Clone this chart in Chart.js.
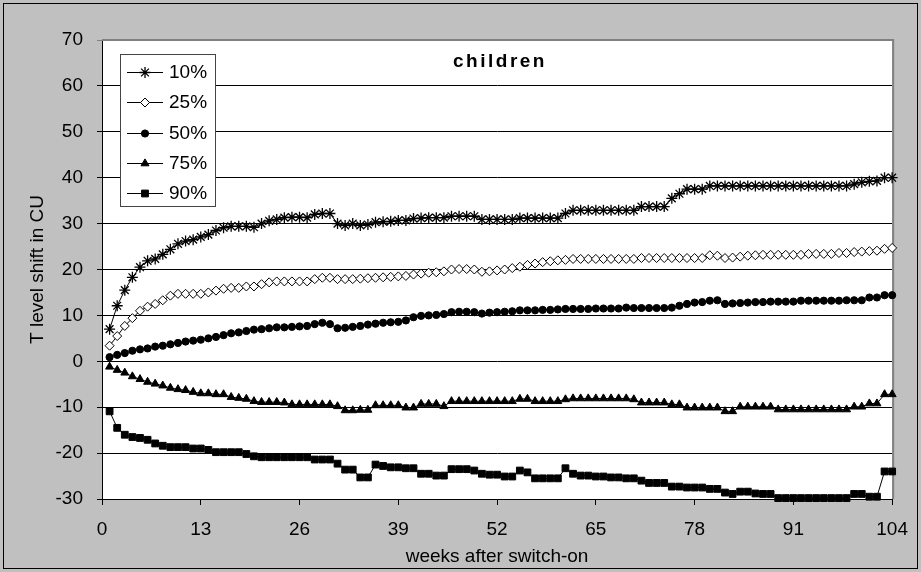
<!DOCTYPE html>
<html>
<head>
<meta charset="utf-8">
<title>T level shift - children</title>
<script src="https://cdn.jsdelivr.net/npm/chart.js@4.4.1/dist/chart.umd.min.js"></script>
<style>
  html, body { margin: 0; padding: 0; background: #c0c0c0; }
  #wrap { width: 921px; height: 572px; }
</style>
</head>
<body>
<div id="wrap"><canvas id="shiftChart" width="921" height="572"></canvas></div>
<script>
// weeks after switch-on (x values)
const weeks = [
  1, 2, 3, 4, 5, 6, 7, 8, 9, 10, 11, 12, 13,
  14, 15, 16, 17, 18, 19, 20, 21, 22, 23, 24, 25, 26,
  27, 28, 29, 30, 31, 32, 33, 34, 35, 36, 37, 38, 39,
  40, 41, 42, 43, 44, 45, 46, 47, 48, 49, 50, 51, 52,
  53, 54, 55, 56, 57, 58, 59, 60, 61, 62, 63, 64, 65,
  66, 67, 68, 69, 70, 71, 72, 73, 74, 75, 76, 77, 78,
  79, 80, 81, 82, 83, 84, 85, 86, 87, 88, 89, 90, 91,
  92, 93, 94, 95, 96, 97, 98, 99, 100, 101, 102, 103, 104
];

// T level shift (CU) per percentile, one value per week
const p10 = [
  7.0, 12.1, 15.5, 18.3, 20.5, 21.9, 22.3, 23.3, 24.4, 25.6, 26.2, 26.5, 27.1,
  27.6, 28.5, 29.1, 29.4, 29.4, 29.4, 29.2, 30.0, 30.6, 30.9, 31.3, 31.4, 31.4,
  31.3, 32.0, 32.2, 32.2, 30.0, 29.6, 30.0, 29.6, 29.8, 30.3, 30.4, 30.5, 30.7,
  30.7, 31.1, 31.2, 31.3, 31.3, 31.3, 31.6, 31.6, 31.6, 31.6, 30.9, 30.9, 30.9,
  30.9, 30.9, 31.2, 31.2, 31.2, 31.2, 31.2, 31.2, 32.2, 32.9, 32.9, 32.9, 32.9,
  32.9, 32.9, 32.9, 32.9, 32.9, 33.7, 33.7, 33.7, 33.7, 35.5, 36.5, 37.5, 37.5,
  37.5, 38.2, 38.2, 38.2, 38.2, 38.2, 38.2, 38.2, 38.2, 38.2, 38.2, 38.2, 38.2,
  38.2, 38.2, 38.2, 38.2, 38.2, 38.2, 38.2, 38.6, 39.0, 39.2, 39.3, 40.0, 40.0
];
const p25 = [
  3.4, 5.5, 7.7, 9.4, 11.0, 11.9, 12.5, 13.3, 14.3, 14.7, 14.7, 14.7, 14.7,
  15.0, 15.4, 15.8, 16.0, 16.0, 16.3, 16.3, 16.8, 17.2, 17.4, 17.4, 17.4, 17.4,
  17.4, 17.9, 18.2, 18.2, 17.9, 17.9, 17.9, 18.0, 18.1, 18.2, 18.3, 18.4, 18.5,
  18.6, 18.9, 19.1, 19.3, 19.4, 19.6, 20.0, 20.1, 20.1, 20.0, 19.5, 19.6, 19.8,
  20.0, 20.3, 20.6, 21.0, 21.3, 21.6, 21.8, 22.0, 22.1, 22.3, 22.3, 22.3, 22.3,
  22.3, 22.3, 22.3, 22.3, 22.3, 22.5, 22.5, 22.5, 22.5, 22.5, 22.5, 22.5, 22.5,
  22.5, 23.1, 23.0, 22.5, 22.6, 22.8, 23.0, 23.1, 23.2, 23.2, 23.2, 23.2, 23.2,
  23.2, 23.4, 23.4, 23.4, 23.4, 23.6, 23.6, 23.8, 23.9, 24.0, 24.1, 24.5, 24.7
];
const p50 = [
  0.9, 1.4, 1.8, 2.3, 2.6, 2.8, 3.2, 3.4, 3.7, 4.0, 4.3, 4.5, 4.7,
  5.0, 5.3, 5.7, 6.1, 6.3, 6.6, 6.9, 7.0, 7.2, 7.4, 7.4, 7.5, 7.6,
  7.7, 8.1, 8.4, 8.1, 7.2, 7.3, 7.5, 7.7, 8.0, 8.2, 8.4, 8.5, 8.6,
  8.9, 9.6, 9.9, 10.0, 10.1, 10.3, 10.7, 10.8, 10.8, 10.7, 10.4, 10.6, 10.7,
  10.8, 10.9, 11.1, 11.1, 11.1, 11.2, 11.2, 11.3, 11.4, 11.4, 11.4, 11.4, 11.5,
  11.5, 11.5, 11.5, 11.7, 11.6, 11.6, 11.6, 11.6, 11.6, 11.7, 12.1, 12.5, 12.8,
  12.9, 13.2, 13.3, 12.5, 12.6, 12.7, 12.8, 12.9, 12.9, 13.0, 13.0, 13.0, 13.0,
  13.2, 13.2, 13.2, 13.2, 13.2, 13.2, 13.3, 13.3, 13.3, 13.9, 13.9, 14.4, 14.4
];
const p75 = [
  -1.2, -1.9, -2.5, -3.3, -3.9, -4.5, -4.9, -5.3, -5.8, -6.1, -6.3, -6.7, -7.0,
  -7.0, -7.2, -7.2, -7.8, -8.0, -8.2, -8.7, -8.9, -8.9, -8.9, -9.0, -9.4, -9.4,
  -9.4, -9.4, -9.4, -9.4, -9.8, -10.7, -10.7, -10.6, -10.6, -9.6, -9.6, -9.6, -9.6,
  -10.1, -10.1, -9.3, -9.3, -9.3, -9.8, -8.7, -8.7, -8.7, -8.7, -8.7, -8.7, -8.7,
  -8.7, -8.7, -8.2, -8.2, -8.7, -8.7, -8.7, -8.7, -8.3, -8.1, -8.1, -8.1, -8.1,
  -8.1, -8.1, -8.1, -8.1, -8.3, -9.0, -9.0, -9.0, -9.0, -9.4, -9.4, -10.1, -10.1,
  -10.1, -10.1, -10.1, -10.9, -10.9, -9.9, -9.9, -9.9, -9.9, -9.9, -10.5, -10.5, -10.5,
  -10.5, -10.5, -10.5, -10.5, -10.5, -10.5, -10.5, -9.9, -9.9, -9.2, -9.2, -7.2, -7.2
];
const p90 = [
  -10.9, -14.5, -16.0, -16.5, -16.7, -17.1, -17.9, -18.4, -18.7, -18.7, -18.7, -19.0, -19.0,
  -19.3, -19.8, -19.8, -19.8, -19.8, -20.2, -20.7, -20.9, -20.9, -20.9, -20.9, -20.9, -20.9,
  -20.9, -21.4, -21.4, -21.4, -22.3, -23.6, -23.6, -25.3, -25.3, -22.5, -22.8, -23.1, -23.1,
  -23.3, -23.3, -24.5, -24.5, -24.9, -24.9, -23.5, -23.5, -23.5, -23.8, -24.5, -24.7, -24.7,
  -25.1, -25.1, -23.8, -24.2, -25.5, -25.5, -25.5, -25.5, -23.3, -24.5, -24.9, -24.9, -25.1,
  -25.1, -25.3, -25.3, -25.5, -25.5, -26.0, -26.5, -26.5, -26.5, -27.3, -27.3, -27.5, -27.5,
  -27.5, -27.8, -27.8, -28.6, -28.9, -28.4, -28.4, -28.8, -28.9, -28.9, -29.8, -29.8, -29.8,
  -29.8, -29.8, -29.8, -29.8, -29.8, -29.8, -29.8, -28.9, -28.9, -29.5, -29.5, -24.0, -24.0
];

const seriesLabels = ['10%', '25%', '50%', '75%', '90%'];
const xTicks = [0, 13, 26, 39, 52, 65, 78, 91, 104];
const yTicks = [-30, -20, -10, 0, 10, 20, 30, 40, 50, 60, 70];

const FONT = "'Liberation Sans', Arial, sans-serif";

// Excel-like marker per percentile
const markers = [
  { style: 'star', radius: 5.5, fill: '#000', border: 1.3 },
  { style: 'rectRot', radius: 4.5, fill: '#fff', border: 1 },
  { style: 'circle', radius: 3.6, fill: '#000', border: 1 },
  { style: 'triangle', radius: 4.6, fill: '#000', border: 1 },
  { style: 'rect', radius: 4.8, fill: '#000', border: 1 }
];

// gray chart background, white plot area, gray plot frame
const chartFrame = {
  id: 'chartFrame',
  beforeDraw(chart) {
    const { ctx, chartArea: a } = chart;
    ctx.save();
    ctx.fillStyle = '#c0c0c0';
    ctx.fillRect(0, 0, chart.width, chart.height);
    ctx.strokeStyle = '#000';
    ctx.lineWidth = 1;
    ctx.strokeRect(3.5, 3.5, chart.width - 7, chart.height - 7);
    ctx.fillStyle = '#fff';
    ctx.fillRect(a.left, a.top, a.right - a.left, a.bottom - a.top);
    ctx.restore();
  },
  beforeDatasetsDraw(chart) {
    const { ctx, chartArea: a } = chart;
    ctx.save();
    ctx.strokeStyle = '#808080';
    ctx.lineWidth = 2;
    ctx.beginPath();
    ctx.moveTo(a.left, a.top);
    ctx.lineTo(a.right + 1, a.top);
    ctx.lineTo(a.right + 1, a.bottom);
    ctx.stroke();
    ctx.restore();
  }
};

// "children" caption inside the plot area
const innerTitle = {
  id: 'innerTitle',
  afterDraw(chart) {
    const { ctx } = chart;
    ctx.save();
    ctx.font = 'bold 19px ' + FONT;
    if ('letterSpacing' in ctx) ctx.letterSpacing = '2.5px';
    ctx.fillStyle = '#000';
    ctx.textBaseline = 'middle';
    ctx.textAlign = 'left';
    const w = ctx.measureText('children').width;
    ctx.fillText('children', 500 - w / 2, 62);
    ctx.restore();
  }
};

// boxed legend in the upper left corner of the plot
const boxLegend = {
  id: 'boxLegend',
  afterDraw(chart) {
    const { ctx } = chart;
    const box = { x: 120, y: 54, w: 96, h: 153 };
    ctx.save();
    ctx.fillStyle = '#fff';
    ctx.fillRect(box.x, box.y, box.w, box.h);
    ctx.strokeStyle = '#444';
    ctx.lineWidth = 1;
    ctx.strokeRect(box.x + 0.5, box.y + 0.5, box.w - 1, box.h - 1);

    ctx.font = '19px ' + FONT;
    ctx.textBaseline = 'middle';
    ctx.textAlign = 'left';
    chart.data.datasets.forEach((ds, i) => {
      const y = Math.round(72 + i * 30.3) + 0.5;
      ctx.strokeStyle = '#000';
      ctx.lineWidth = 1;
      ctx.beginPath();
      ctx.moveTo(127, y);
      ctx.lineTo(163, y);
      ctx.stroke();
      ctx.fillStyle = markers[i].fill;
      ctx.strokeStyle = '#000';
      ctx.lineWidth = markers[i].border;
      Chart.helpers.drawPoint(ctx, {
        pointStyle: markers[i].style,
        radius: markers[i].radius,
        borderWidth: markers[i].border,
        rotation: 0
      }, 145, y);
      ctx.fillStyle = '#000';
      ctx.fillText(ds.label, 169, y);
    });
    ctx.restore();
  }
};

const series = [p10, p25, p50, p75, p90];

new Chart(document.getElementById('shiftChart'), {
  type: 'line',
  data: {
    labels: weeks,
    datasets: series.map((values, i) => ({
      label: seriesLabels[i],
      data: values,
      borderColor: '#000',
      borderWidth: 1,
      pointStyle: markers[i].style,
      pointRadius: markers[i].radius,
      pointBackgroundColor: markers[i].fill,
      pointBorderColor: '#000',
      pointBorderWidth: markers[i].border,
      tension: 0,
      fill: false,
      clip: false
    }))
  },
  options: {
    responsive: false,
    animation: false,
    devicePixelRatio: 1,
    events: [],
    layout: { padding: { left: 20, right: 26, top: 40, bottom: 0 } },
    plugins: {
      legend: { display: false },
      tooltip: { enabled: false }
    },
    scales: {
      x: {
        type: 'linear',
        min: 0,
        max: 104,
        afterBuildTicks: s => { s.ticks = xTicks.map(v => ({ value: v })); },
        afterFit: s => { s.height = 73; },
        grid: { drawOnChartArea: false, tickLength: 6, color: '#000' },
        border: { color: '#000', width: 1 },
        ticks: {
          color: '#000',
          font: { family: FONT, size: 19 },
          padding: 13,
          maxRotation: 0,
          autoSkip: false
        },
        title: {
          display: true,
          text: 'weeks after switch-on',
          color: '#000',
          font: { family: FONT, size: 19 },
          padding: { top: 0, bottom: 4 }
        }
      },
      y: {
        type: 'linear',
        min: -30,
        max: 70,
        afterBuildTicks: s => { s.ticks = yTicks.map(v => ({ value: v })); },
        afterFit: s => { s.width = 82; },
        grid: {
          tickLength: 5,
          color: c => (c.tick && c.tick.value === 70 ? '#808080' : '#000')
        },
        border: { color: '#000', width: 1 },
        ticks: {
          color: '#000',
          font: { family: FONT, size: 19 },
          padding: 14
        },
        title: {
          display: true,
          text: 'T level shift in CU',
          color: '#000',
          font: { family: FONT, size: 19 },
          padding: { top: 6, bottom: 0 }
        }
      }
    }
  },
  plugins: [chartFrame, innerTitle, boxLegend]
});
</script>
</body>
</html>
